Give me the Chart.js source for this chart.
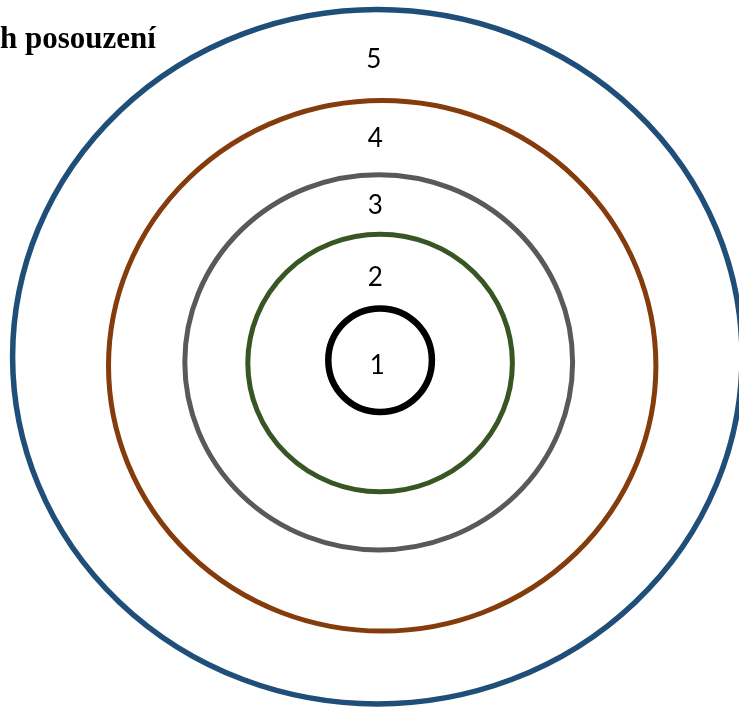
<!DOCTYPE html>
<html>
<head>
<meta charset="utf-8">
<script src="https://cdn.jsdelivr.net/npm/chart.js@4"></script>
<style>
  html, body { margin: 0; padding: 0; background: #fff; }
  #wrap { width: 739px; height: 713px; position: relative; }
</style>
</head>
<body>
<div id="wrap"><canvas id="rings"></canvas></div>
<script>
// urovne 1..5 (od stredu ven)
const levels = ["1", "2", "3", "4", "5"];

// kruhy - stred a poloosy v jednotkach grafu
const ringCenterX = [0.03, 0.03, 0.01, 0.06, -0.01];
const ringCenterY = [-0.06, -0.10, -0.09, -0.14, -0.01];
const ringRadiusX = [0.74, 1.89, 2.77, 3.91, 5.21];
const ringRadiusY = [0.74, 1.84, 2.68, 3.79, 4.96];

// pozice popisku urovni
const labelX = [-0.01, -0.04, -0.04, -0.04, -0.06];
const labelY = [-0.14, 1.12, 2.15, 3.10, 4.24];

const ringColors = ["#000000", "#375623", "#595959", "#843C0C", "#1F4E79"];
const ringWidths = [6.5, 5, 5, 5, 5.5];

// ==================== PLUGIN: kruhy + cisla ====================
const ringPlugin = {
  id: "ringPlugin",
  afterDatasetsDraw(chart) {
    const ctx = chart.ctx;
    const xs = chart.scales.x;
    const ys = chart.scales.y;

    const ringMeta = chart.getDatasetMeta(0);
    ringMeta.data.forEach((pt, i) => {
      const rx = Math.abs(xs.getPixelForValue(ringCenterX[i] + ringRadiusX[i]) - pt.x);
      const ry = Math.abs(ys.getPixelForValue(ringCenterY[i] + ringRadiusY[i]) - pt.y);
      ctx.save();
      ctx.beginPath();
      ctx.ellipse(pt.x, pt.y, rx, ry, 0, 0, Math.PI * 2);
      ctx.strokeStyle = ringColors[i];
      ctx.lineWidth = ringWidths[i];
      ctx.stroke();
      ctx.restore();
    });

    const labelMeta = chart.getDatasetMeta(1);
    ctx.save();
    ctx.fillStyle = "#000";
    ctx.font = "26px Lato";
    ctx.textAlign = "center";
    ctx.textBaseline = "middle";
    labelMeta.data.forEach((pt, i) => {
      ctx.fillText(levels[i], pt.x, pt.y);
    });
    ctx.restore();
  }
};

new Chart(document.getElementById("rings"), {
  type: "scatter",
  data: {
    datasets: [
      {
        label: "Kruhy",
        data: ringCenterX.map((x, i) => ({ x: x, y: ringCenterY[i] })),
        pointRadius: 0
      },
      {
        label: "Úrovně",
        data: labelX.map((x, i) => ({ x: x, y: labelY[i] })),
        pointRadius: 0
      }
    ]
  },
  options: {
    responsive: true,
    maintainAspectRatio: false,
    animation: false,
    layout: { padding: 0 },
    scales: {
      x: { type: "linear", display: false, min: -5.4, max: 5.1571 },
      y: { type: "linear", display: false, min: -5.1, max: 5.0857 }
    },
    plugins: {
      legend: { display: false },
      tooltip: { enabled: false },
      title: {
        display: true,
        text: "h posouzení",
        align: "start",
        color: "#000",
        font: { family: "Liberation Serif", size: 31, weight: "bold", lineHeight: 1 },
        padding: { top: 24.5, bottom: -55.5 }
      }
    }
  },
  plugins: [ringPlugin]
});
</script>
</body>
</html>
